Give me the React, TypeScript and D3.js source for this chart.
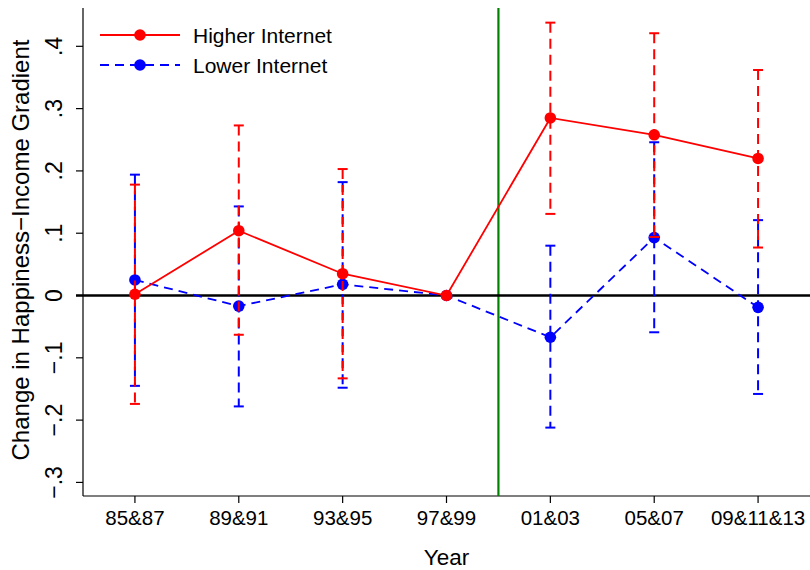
import React from "react";
import * as d3 from "d3";

const categories = ["85&87", "89&91", "93&95", "97&99", "01&03", "05&07", "09&11&13"];
const higherValues = [0.002, 0.104, 0.035, 0, 0.285, 0.258, 0.22];
const higherUpper = [0.178, 0.273, 0.203, null, 0.438, 0.421, 0.362];
const higherLower = [-0.174, -0.063, -0.133, null, 0.131, 0.094, 0.077];
const lowerValues = [0.025, -0.017, 0.018, 0, -0.067, 0.093, -0.019];
const lowerUpper = [0.194, 0.143, 0.182, null, 0.08, 0.246, 0.121];
const lowerLower = [-0.145, -0.178, -0.148, null, -0.212, -0.059, -0.158];
const yTicks = [-0.3, -0.2, -0.1, 0, 0.1, 0.2, 0.3, 0.4];
const yTickLabels = ["−.3", "−.2", "−.1", "0", ".1", ".2", ".3", ".4"];
const breakIndex = 3.5;

const W = 810;
const H = 570;
const FONT = "Liberation Sans, Arial, sans-serif";

export default function App() {
  const x = d3.scaleLinear().domain([-0.5, 6.5]).range([83, 810]);
  const y = d3.scaleLinear().domain([-0.3218, 0.4615]).range([496, 8]);
  const left = 83;
  const bottom = 496;
  const top = 8;

  const line = d3
    .line<number>()
    .x((_, i) => x(i))
    .y((d) => y(d));

  const series = [
    { name: "Lower Internet", color: "#0000ff", vals: lowerValues, up: lowerUpper, lo: lowerLower, dash: "9 6" },
    { name: "Higher Internet", color: "#ff0000", vals: higherValues, up: higherUpper, lo: higherLower, dash: null as string | null },
  ];

  const legendItems = [
    { name: "Higher Internet", color: "#ff0000", dash: null as string | null, y: 35 },
    { name: "Lower Internet", color: "#0000ff", dash: "9 6", y: 65 },
  ];

  return (
    <svg width={W} height={H} style={{ display: "block", position: "absolute", left: 0, top: 0 }} fontFamily={FONT}>
      <rect x={0} y={0} width={W} height={H} fill="#fff" />
      {/* axes */}
      <line x1={left} x2={left} y1={top} y2={bottom} stroke="#000" strokeWidth={1.2} />
      <line x1={left} x2={W} y1={bottom} y2={bottom} stroke="#000" strokeWidth={1.2} />
      {yTicks.map((t, i) => (
        <g key={"yt" + i}>
          <line x1={left - 7} x2={left} y1={y(t)} y2={y(t)} stroke="#000" strokeWidth={1.2} />
          <text
            transform={`translate(${62},${y(t)}) rotate(-90)`}
            textAnchor="middle"
            fontSize={23}
            fill="#000"
          >
            {yTickLabels[i]}
          </text>
        </g>
      ))}
      {categories.map((c, i) => (
        <g key={"xt" + i}>
          <line x1={x(i)} x2={x(i)} y1={bottom} y2={bottom + 7} stroke="#000" strokeWidth={1.2} />
          <text x={x(i)} y={525} textAnchor="middle" fontSize={20.5} fill="#000">
            {c}
          </text>
        </g>
      ))}
      <text x={(left + W) / 2} y={565} textAnchor="middle" fontSize={22.5} fill="#000">
        Year
      </text>
      <text
        transform={`translate(${29},${250}) rotate(-90)`}
        textAnchor="middle"
        fontSize={24}
        fill="#000"
      >
        Change in Happiness−Income Gradient
      </text>
      {/* reference lines */}
      <line x1={x(breakIndex)} x2={x(breakIndex)} y1={top} y2={bottom} stroke="#008200" strokeWidth={2.2} />
      <line x1={left - 7} x2={W} y1={y(0)} y2={y(0)} stroke="#000" strokeWidth={2.6} />
      {/* series */}
      {series.map((s) => (
        <g key={s.name}>
          {s.vals.map((_, i) => {
            const u = s.up[i];
            const l = s.lo[i];
            if (u == null || l == null) return null;
            return (
              <g key={i}>
                <line x1={x(i)} x2={x(i)} y1={y(u)} y2={y(l)} stroke={s.color} strokeWidth={2} strokeDasharray="10 6" />
                <line x1={x(i) - 5} x2={x(i) + 5} y1={y(u)} y2={y(u)} stroke={s.color} strokeWidth={2} />
                <line x1={x(i) - 5} x2={x(i) + 5} y1={y(l)} y2={y(l)} stroke={s.color} strokeWidth={2} />
              </g>
            );
          })}
          <path d={line(s.vals) || ""} fill="none" stroke={s.color} strokeWidth={1.8} strokeDasharray={s.dash || undefined} />
          {s.vals.map((v, i) => (
            <circle key={i} cx={x(i)} cy={y(v)} r={5.8} fill={s.color} />
          ))}
        </g>
      ))}
      {/* legend */}
      {legendItems.map((it) => (
        <g key={it.name}>
          <line x1={100} x2={180} y1={it.y} y2={it.y} stroke={it.color} strokeWidth={1.8} strokeDasharray={it.dash || undefined} />
          <circle cx={140} cy={it.y} r={5.8} fill={it.color} />
          <text x={193} y={it.y + 7.5} fontSize={21} fill="#000">
            {it.name}
          </text>
        </g>
      ))}
    </svg>
  );
}
